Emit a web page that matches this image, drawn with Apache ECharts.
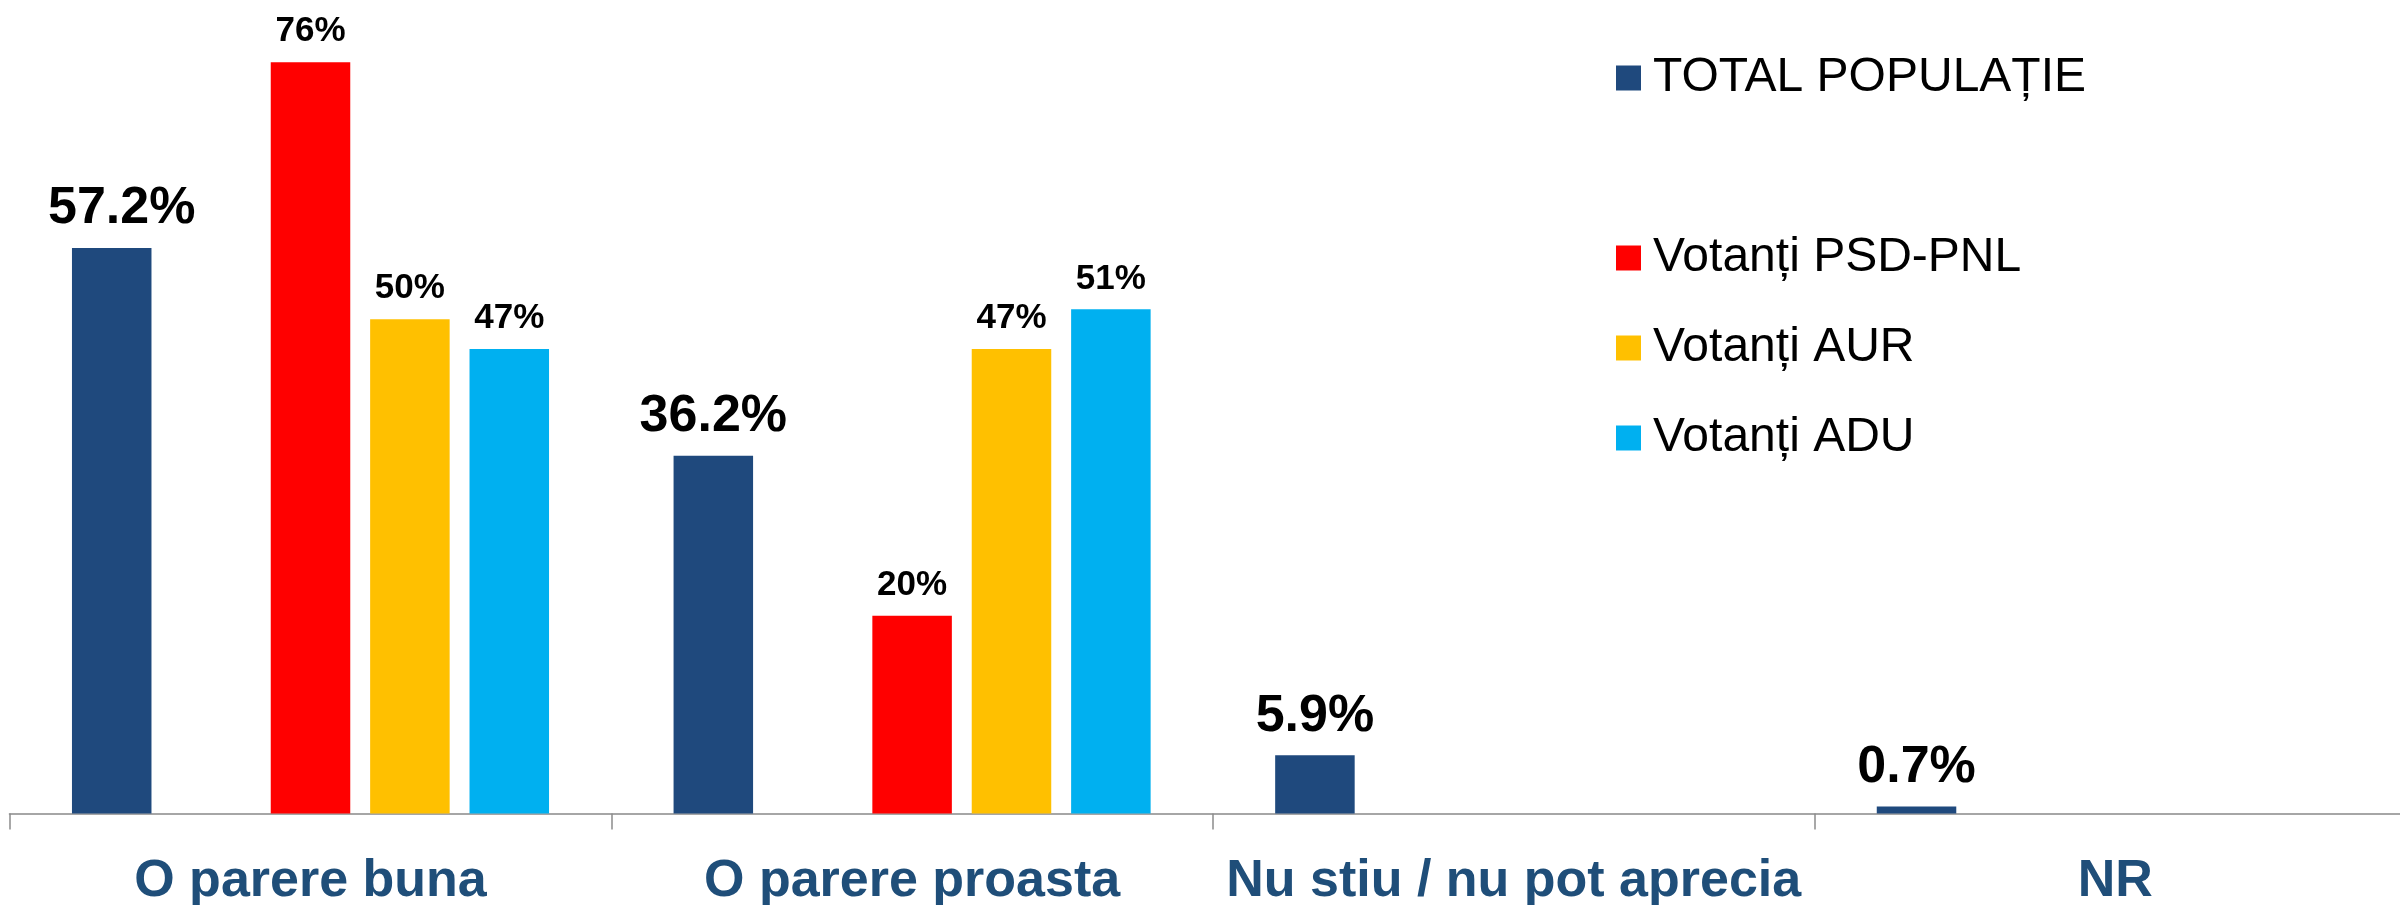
<!DOCTYPE html>
<html>
<head>
<meta charset="utf-8">
<script src="https://cdn.jsdelivr.net/npm/echarts@6/dist/echarts.min.js"></script>
<style>
  html, body { margin: 0; padding: 0; background: #fff; }
  #chart { width: 2400px; height: 905px; }
</style>
</head>
<body>
<div id="chart"></div>
<script>
// ── Datos ────────────────────────────────────────────────────────────────
const categories   = ['O parere buna', 'O parere proasta', 'Nu stiu / nu pot aprecia', 'NR'];
const seriesNames  = ['TOTAL POPULAȚIE', ' ', 'Votanți PSD-PNL', 'Votanți AUR', 'Votanți ADU'];
const totalValues  = [57.2, 36.2, 5.9, 0.7];
const blankValues  = ['-', '-', '-', '-'];
const psdPnlValues = [76, 20, '-', '-'];
const aurValues    = [50, 47, '-', '-'];
const aduValues    = [47, 51, '-', '-'];

const COLORS = ['#1F497D', 'rgba(0,0,0,0)', '#FF0000', '#FFC000', '#00B0F0'];
const FONT = 'Liberation Sans, Arial, sans-serif';

function barSeries(name, data, color, big) {
  return {
    name,
    type: 'bar',
    data,
    barGap: '25%',
    barCategoryGap: '20.7%',
    itemStyle: { color },
    label: {
      show: true,
      position: 'top',
      distance: 13,
      fontFamily: FONT,
      fontWeight: 'bold',
      fontSize: big ? 52 : 35,
      color: '#000',
      formatter: (p) => big ? `${p.value.toFixed(1)}%` : `${p.value}%`,
    },
  };
}

const chart = echarts.init(document.getElementById('chart'), null, { renderer: 'canvas' });

const totalSeries = barSeries(seriesNames[0], totalValues, COLORS[0], true);
// en el original la etiqueta 57.2% está movida un poco a la derecha
totalSeries.labelLayout = (p) => (p.dataIndex === 0 ? { dx: 10 } : {});

chart.setOption({
  animation: false,
  textStyle: { fontFamily: FONT },
  // el área de trazado se sale un poco por la derecha, como en el original
  grid: {
    left: 9.7, width: 2406.4, top: 22.7, height: 790.8,
    containLabel: false,
    outerBoundsMode: 'none',
  },
  legend: {
    orient: 'vertical',
    left: 1616,
    top: 53,
    padding: 0,
    itemGap: 40,
    itemWidth: 25,
    itemHeight: 25,
    icon: 'rect',
    selectedMode: false,
    data: seriesNames,
    textStyle: {
      fontFamily: FONT,
      fontSize: 48,
      lineHeight: 50,
      color: '#000',
      padding: [0, 0, 0, 7],
    },
  },
  xAxis: {
    type: 'category',
    data: categories,
    axisLine: { lineStyle: { color: '#A6A6A6', width: 2 } },
    axisTick: { show: true, length: 16, lineStyle: { color: '#8C8C8C', width: 1.5 } },
    axisLabel: {
      interval: 0,
      margin: 42,
      fontFamily: FONT,
      fontWeight: 'bold',
      fontSize: 52,
      color: '#1F4E79',
    },
  },
  yAxis: {
    type: 'value',
    min: 0,
    max: 80,
    show: false,
    splitLine: { show: false },
  },
  series: [
    totalSeries,
    barSeries(seriesNames[1], blankValues, COLORS[1], false),
    barSeries(seriesNames[2], psdPnlValues, COLORS[2], false),
    barSeries(seriesNames[3], aurValues, COLORS[3], false),
    barSeries(seriesNames[4], aduValues, COLORS[4], false),
  ],
});
</script>
</body>
</html>
